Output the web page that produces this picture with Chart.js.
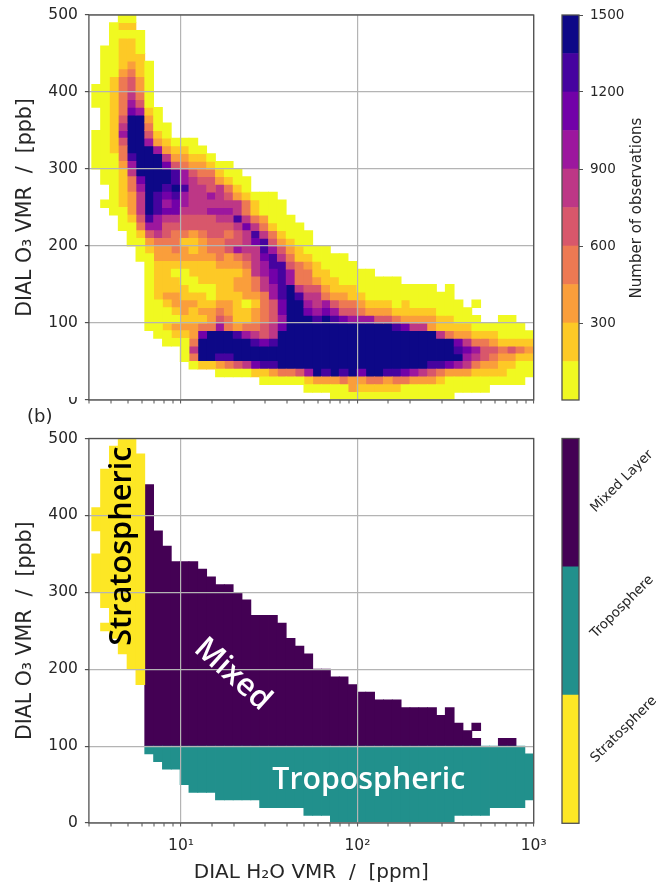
<!DOCTYPE html>
<html><head><meta charset="utf-8">
<style>
html,body{margin:0;padding:0;background:#fff;width:659px;height:885px;overflow:hidden}
canvas{position:absolute;display:block}
</style>
<script src="https://cdn.jsdelivr.net/npm/chart.js@4"></script>
</head><body>
<canvas id="topChart" width="659" height="440" style="left:0px;top:-10px"></canvas>
<canvas id="botChart" width="659" height="480" style="left:0px;top:405px"></canvas>
<canvas id="topBar" width="129" height="440" style="left:530px;top:-10px"></canvas>
<canvas id="botBar" width="129" height="505" style="left:530px;top:380px"></canvas>
<script>
// ---------- DATA ----------
const xTickLabels = {10:'10¹',100:'10²',1000:'10³'};
const yTicks = [0,100,200,300,400,500];
// Panel (a): colour-band index per 2-D bin. Rows run from 490-500 ppb down to 0-10 ppb; one character per H2O bin.
const obsRows = [
"...00",
"..011",
"..0000",
"..0110",
".00110",
".00111",
".001210",
".002310",
".013420",
"0013420",
"0013530",
"0013640",
".0137610",
".0149920",
".01599300",
"001699410",
"001499621000",
"0013999621100",
"00038999522110",
"0002699974322100",
".0015999986433100",
".00137999865442100",
"..0136998985545310",
"..0125987865565421000",
".001259867655555531000",
"..00259877555666531000",
"...01486554444558532000",
"...003664444444457531000",
"....014543323443458531000",
"....002333112334457842100",
".....0122321233465586421000",
".....002222222323457853110000",
"......011111112223568843210000",
"......01100111111256786331100000",
"......01110011112235786332110000000",
"......011110001122356895442111000000000.0",
"......01221110111223689855322110000000000",
"......001222112210134799656433211101000000.0",
"......0001212232112347997676443222111110000",
"......00001112431123469998987666443222211000..00",
"......0012223363233457"+"999999999999"+"8755"+"2"+"1111"+"000000",
".......00112799986545"+"999999999999999999"+"53221110000",
"........0003"+"999999"+"878"+"99999999999999999999"+"75332"+"1111",
"..........05"+"99999999999999999999999999999"+"876443432",
"..........03"+"9988"+"99999999999999999999999999"+"65432211",
"...........0112345788"+"99999999999999999"+"887653221100",
"..............00001123346"+"9898979988765432221111000",
"..................."+"00000"+"1222322332332221"+"000000000",
"........................"+"00000"+"2"+"11111"+"0000000000",
"..........................."+"00000000000000"
];
const ppbPerRow = 10;
const bandColors = ['#f0f921','#fdc926','#fa9e3b','#ed7953','#d8576b','#bd3786','#9c179e','#7201a8','#46039f','#0d0887'];
const bandValues = [150,150,150,150,150,150,150,150,150,150];
const obsTicks = [300,600,900,1200,1500];
// Panel (b): classified regions, per H2O bin, in ppb.
const stratRuns = [[0,380,410],[0,300,350],[1,280,460],[1,250,260],[2,240,490],[3,220,500],[4,200,500],[5,180,480]];
const mixedTops = [440,380,360,340,340,340,330,320,310,310,300,290,270,270,270,260,240,230,220,200,200,190,190,180,170,170,160,160,160,150,150,150,150,140,150,130,120,130];
const mixedIsland = [[46,100,110],[47,100,110]];
const tropoBottoms = [90,80,70,70,50,40,40,40,30,30,30,30,30,20,20,20,20,20,10,10,10,0,0,0,0,0,0,0,0,0,0,0,0,0,0,10,10,10,10,20,20,20,20,30];
const tropoTops = [100,100,100,100,100,100,100,100,100,100,100,100,100,100,100,100,100,100,100,100,100,100,100,100,100,100,100,100,100,100,100,100,100,100,100,100,100,100,100,100,100,100,100,90];
const classNames = ['Stratosphere','Troposphere','Mixed Layer'];
const classColors = ['#fde725','#21908c','#440154'];
const classValues = [1,1,1];
const classTickPos = [0.49,1.46,2.44];
const notes = [
 {text:'Stratospheric',x:4.65,y:360,rot:-90,color:'#000',size:30.7},
 {text:'Mixed',x:19.6,y:193,rot:42,color:'#fff',size:31},
 {text:'Tropospheric',x:116,y:56,rot:0,color:'#fff',size:30.3}
];
// ---------- STYLE ----------
const FF = '"DejaVu Sans"';
const INK = '#262626', SPINE='#505050', GRID='#b4b4b4';
const binMin = -0.32, binMax = 50;

// outer frame of each axes
const frame = {id:'frame',afterDraw(c){const a=c.chartArea,g=c.ctx;g.save();g.strokeStyle=SPINE;g.lineWidth=1.3;g.strokeRect(a.left,a.top,a.right-a.left,a.bottom-a.top);g.restore();}};
// the reference's lower panel trims the top of the upper panel's "0" label
const trimZero = {id:'trimZero',afterDraw(c){const g=c.ctx,a=c.chartArea;g.save();g.fillStyle='#fff';g.fillRect(a.left-30,a.bottom-9,24,6);g.restore();}};

function rowsToSets(){
  const sets = bandColors.map((col)=>({data:[],backgroundColor:col,xAxisID:'bin',yAxisID:'y',grouped:false,barPercentage:1,categoryPercentage:1,inflateAmount:0.4,borderWidth:0}));
  for(let k=0;k<50;k++){
    let r=0;
    while(r<obsRows.length){
      const ch=obsRows[r].charAt(k);
      if(ch===''||ch==='.'||ch===' '){r++;continue;}
      let e=r; while(e+1<obsRows.length&&obsRows[e+1].charAt(k)===ch)e++;
      sets[+ch].data.push({x:k+0.5,y:[500-(e+1)*ppbPerRow,500-r*ppbPerRow]});
      r=e+1;
    }
  }
  return sets;
}
function classSets(){
  const base={xAxisID:'bin',yAxisID:'y',grouped:false,barPercentage:1,categoryPercentage:1,inflateAmount:0.4,borderWidth:0};
  const s={...base,backgroundColor:classColors[0],data:stratRuns.map(r=>({x:r[0]+.5,y:[r[1],r[2]]}))};
  const mixed=[];
  mixedTops.forEach((t,i)=>{const k=i+6;
    if(k===43){mixed.push({x:k+.5,y:[100,110]});mixed.push({x:k+.5,y:[120,t]});}
    else mixed.push({x:k+.5,y:[100,t]});});
  mixedIsland.forEach(r=>mixed.push({x:r[0]+.5,y:[r[1],r[2]]}));
  const m={...base,backgroundColor:classColors[2],data:mixed};
  const t={...base,backgroundColor:classColors[1],data:tropoBottoms.map((b,i)=>({x:i+6.5,y:[b,tropoTops[i]]}))};
  return [s,t,m];
}
function scales(showX,titleY){
  return {
    x:{type:'logarithmic',min:3,max:1000,offset:false,
       afterFit(s){s.height=showX?62:30;},
       grid:{offset:false,z:1,lineWidth:c=>xTickLabels[c.tick&&c.tick.value]?1.2:0,color:GRID,tickColor:SPINE,tickWidth:1,tickLength:3.5,drawTicks:true},
       border:{display:false},
       ticks:{display:showX,autoSkip:false,maxRotation:0,minRotation:0,color:INK,padding:10,font:{family:FF,size:15.5},callback:v=>xTickLabels[v]||''},
       title:{display:showX,text:'DIAL H₂O VMR  /  [ppm]',color:INK,font:{family:FF,size:20},padding:{top:0,bottom:0}}},
    bin:{type:'linear',axis:'x',display:false,min:binMin,max:binMax,offset:false,grid:{offset:false}},
    y:{type:'linear',min:0,max:500,
       afterBuildTicks(s){s.ticks=yTicks.map(v=>({value:v}));},
       afterFit(s){s.width=88.9;},
       grid:{z:1,color:GRID,lineWidth:1.2,tickColor:SPINE,tickLength:4},
       border:{display:false},
       ticks:{color:INK,padding:7,font:{family:FF,size:15.5}},
       title:{display:true,text:titleY,color:INK,font:{family:FF,size:20.5},padding:{top:13,bottom:0}}}
  };
}
const common={responsive:false,animation:false,events:[],plugins:{legend:{display:false},tooltip:{enabled:false}}};

new Chart(document.getElementById('topChart'),{type:'bar',data:{datasets:rowsToSets()},plugins:[frame,trimZero],
  options:{...common,layout:{padding:{top:25,left:0,right:125.3,bottom:0}},scales:scales(false,'DIAL O₃ VMR  /  [ppb]')}});

const notesPlugin={id:'notes',afterDraw(c){const g=c.ctx,sx=c.scales.x,sy=c.scales.y;g.save();
  g.textAlign='center';g.textBaseline='middle';
  notes.forEach(n=>{g.save();g.translate(sx.getPixelForValue(n.x),sy.getPixelForValue(n.y));g.rotate(n.rot*Math.PI/180);
    g.fillStyle=n.color;g.font='600 '+n.size+'px "Open Sans"';g.fillText(n.text,0,0);g.restore();});
  g.fillStyle=INK;g.font='18px '+FF;g.textAlign='left';g.fillText('(b)',27,12);
  g.restore();}};
new Chart(document.getElementById('botChart'),{type:'bar',data:{datasets:classSets()},plugins:[frame,notesPlugin],
  options:{...common,layout:{padding:{top:33.5,left:0,right:125.3,bottom:0}},scales:scales(true,'DIAL O₃ VMR  /  [ppb]')}});

// ---------- colour bars ----------
const barLabel={id:'barLabel',afterDraw(c){const g=c.ctx;g.save();g.translate(107,218);g.rotate(-Math.PI/2);g.fillStyle=INK;
  g.font='15px '+FF;g.textAlign='center';g.textBaseline='middle';g.fillText('Number of observations',0,0);g.restore();}};
new Chart(document.getElementById('topBar'),{type:'bar',
  data:{labels:[''],datasets:bandValues.map((v,i)=>({data:[v],backgroundColor:bandColors[i],stack:'c',barPercentage:1,categoryPercentage:1,inflateAmount:0.3,borderWidth:0}))},
  plugins:[frame,barLabel],
  options:{...common,layout:{padding:{top:25,left:32,right:0,bottom:30}},
    scales:{x:{display:false,stacked:true},
      y:{position:'right',stacked:true,min:0,max:1500,
        afterBuildTicks(s){s.ticks=obsTicks.map(v=>({value:v}));},
        afterFit(s){s.width=129-32-17;},
        grid:{drawOnChartArea:false,tickColor:SPINE,tickLength:4},border:{display:false},
        ticks:{color:INK,padding:7,font:{family:FF,size:13.5},callback:v=>String(v)}}}}});
new Chart(document.getElementById('botBar'),{type:'bar',
  data:{labels:[''],datasets:classValues.map((v,i)=>({data:[v],backgroundColor:classColors[i],stack:'c',barPercentage:1,categoryPercentage:1,inflateAmount:0.3,borderWidth:0}))},
  plugins:[frame],
  options:{...common,layout:{padding:{top:58.5,left:32,right:0,bottom:61.7}},
    scales:{x:{display:false,stacked:true},
      y:{position:'right',stacked:true,min:0,max:3,
        afterBuildTicks(s){s.ticks=classTickPos.map(v=>({value:v}));},
        afterFit(s){s.width=129-32-17;},
        grid:{drawOnChartArea:false,drawTicks:false},border:{display:false},
        ticks:{color:INK,padding:14,minRotation:45,maxRotation:45,autoSkip:false,font:{family:FF,size:13.5},
          callback:(v)=>classNames[Math.floor(v)]}}}}});
</script>
</body></html>
